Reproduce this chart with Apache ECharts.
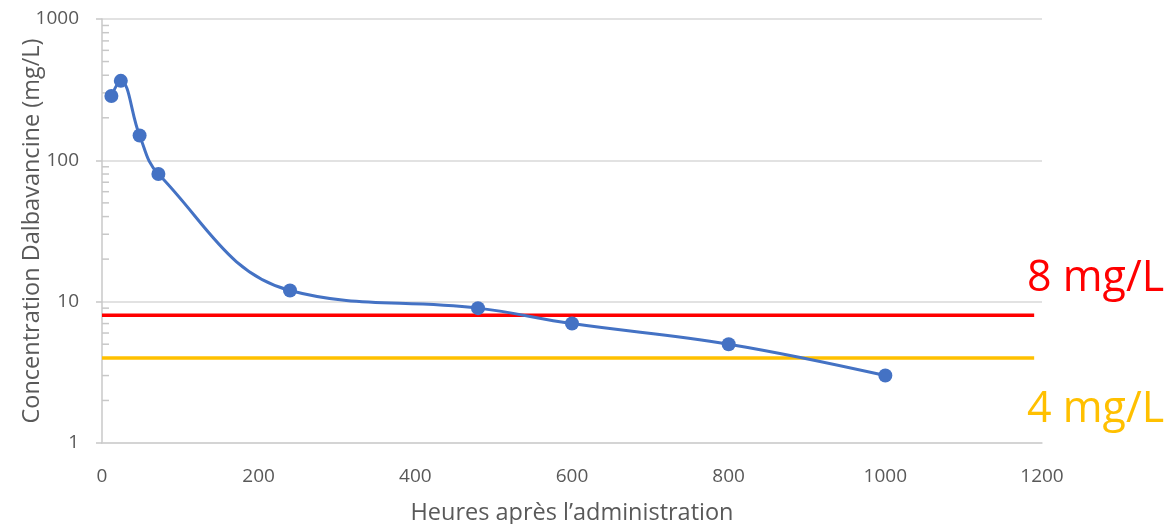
<!DOCTYPE html>
<html>
<head>
<meta charset="utf-8">
<script src="https://cdn.jsdelivr.net/npm/echarts@6/dist/echarts.min.js"></script>
<style>
  html, body { margin: 0; padding: 0; background: #ffffff; }
  #chart { width: 1166px; height: 524px; }
</style>
</head>
<body>
<div id="chart"></div>
<script>
// Dalbavancin concentration over time (hours after administration)
const hours = [12, 24, 48, 72, 240, 480, 600, 800, 1000];
const concentration = [285, 365, 150, 80, 12, 9, 7, 5, 3];

// Threshold levels (mg/L)
const thresholdRed = 8;
const thresholdOrange = 4;
const thresholdSpan = [0, 1190];

// Log-axis minor tick values
const minorTickValues = [2, 3, 4, 5, 6, 7, 8, 9, 20, 30, 40, 50, 60, 70, 80, 90, 200, 300, 400, 500, 600, 700, 800, 900];

const axisTextColor = '#595959';
const font = '"Open Sans", "Liberation Sans", sans-serif';

const chart = echarts.init(document.getElementById('chart'));

chart.setOption({
  animation: false,
  backgroundColor: '#ffffff',
  grid: { left: 102, right: 124, top: 19, bottom: 81, outerBoundsMode: 'none', containLabel: false },
  xAxis: {
    type: 'value',
    min: 0,
    max: 1200,
    interval: 200,
    name: 'Heures après l’administration',
    nameLocation: 'middle',
    nameGap: 58,
    nameMoveOverlap: false,
    nameTextStyle: { color: axisTextColor, fontSize: 23.5, fontFamily: font },
    axisLine: { show: true, onZero: false, lineStyle: { color: '#d0d0d0', width: 1.5 } },
    axisTick: { show: false },
    axisLabel: { color: axisTextColor, fontSize: 19, fontFamily: font, margin: 24, formatter: v => String(v) },
    splitLine: { show: false }
  },
  yAxis: {
    type: 'log',
    logBase: 10,
    min: 1,
    max: 1000,
    name: 'Concentration Dalbavancine (mg/L)',
    nameLocation: 'middle',
    nameGap: 58,
    nameMoveOverlap: false,
    nameTextStyle: { color: axisTextColor, fontSize: 23.5, fontFamily: font },
    axisLine: { show: true, lineStyle: { color: '#c8c8c8', width: 1.5 } },
    axisTick: { show: true, length: 6, lineStyle: { color: '#c8c8c8', width: 1.5 } },
    axisLabel: { color: axisTextColor, fontSize: 19, fontFamily: font, margin: 23, formatter: v => String(v) },
    splitLine: { show: true, lineStyle: { color: '#d9d9d9', width: 1.5 } }
  },
  series: [
    {
      // minor ticks on the log axis at 2..9 of each decade
      type: 'custom',
      silent: true,
      data: minorTickValues.map(v => [0, v]),
      renderItem: function (params, api) {
        const p = api.coord([0, api.value(1)]);
        return {
          type: 'line',
          shape: { x1: p[0], y1: p[1], x2: p[0] + 7, y2: p[1] },
          style: { stroke: '#c8c8c8', lineWidth: 1.5 }
        };
      },
      z: 1
    },
    {
      name: '8 mg/L',
      type: 'line',
      data: thresholdSpan.map(x => [x, thresholdRed]),
      symbol: 'none',
      lineStyle: { color: '#ff0000', width: 3.5 },
      z: 3
    },
    {
      name: '4 mg/L',
      type: 'line',
      data: thresholdSpan.map(x => [x, thresholdOrange]),
      symbol: 'none',
      lineStyle: { color: '#ffc000', width: 3.5 },
      z: 3
    },
    {
      name: 'Dalbavancine',
      type: 'line',
      data: hours.map((h, i) => [h, concentration[i]]),
      smooth: 0.4,
      symbol: 'circle',
      symbolSize: 14,
      itemStyle: { color: '#4472c4' },
      lineStyle: { color: '#4472c4', width: 3 },
      z: 4
    }
  ],
  graphic: [
    {
      type: 'text',
      left: 1027,
      top: 257,
      style: { text: '8 mg/L', fill: '#ff0000', fontSize: 43, fontFamily: font }
    },
    {
      type: 'text',
      left: 1027,
      top: 388,
      style: { text: '4 mg/L', fill: '#ffc000', fontSize: 43, fontFamily: font }
    }
  ]
});
</script>
</body>
</html>
